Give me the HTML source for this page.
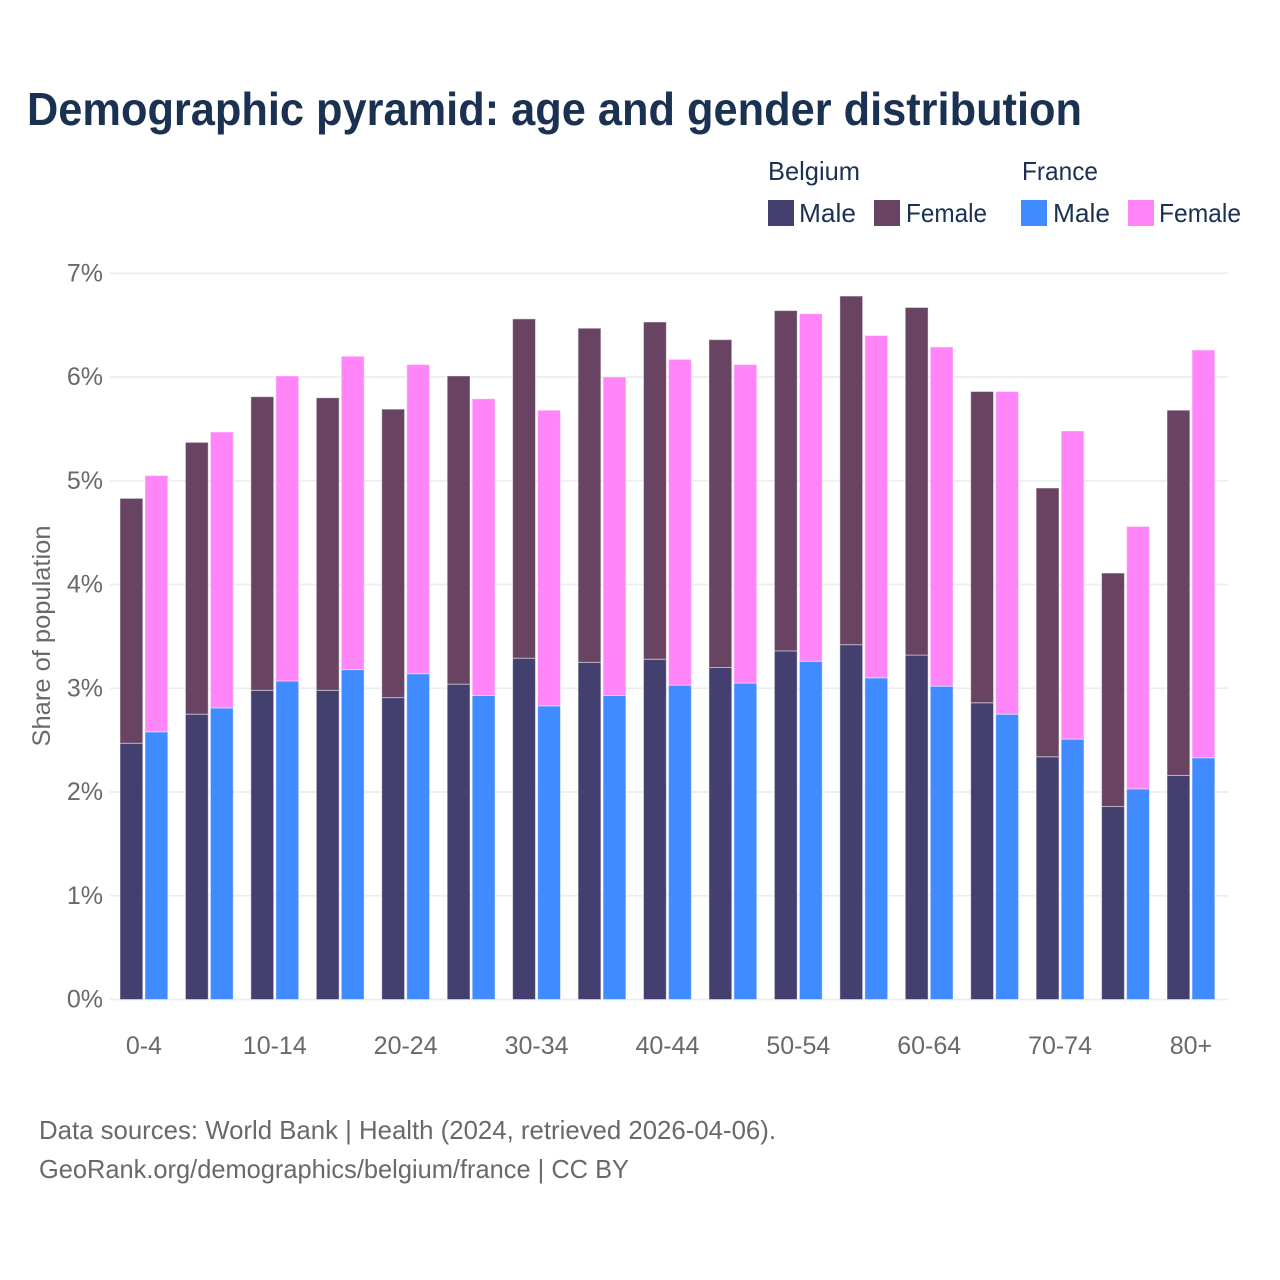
<!DOCTYPE html>
<html lang="en">
<head>
<meta charset="utf-8">
<title>Demographic pyramid</title>
<style>
html,body{margin:0;padding:0;background:#fff}
svg{display:block}
text{font-family:"Liberation Sans",sans-serif}
.tick{font-size:25px;fill:#69686d}
.leg{font-size:26px;fill:#1a3152}
</style>
</head>
<body>
<svg id="chart" width="1280" height="1280" viewBox="0 0 1280 1280" xmlns="http://www.w3.org/2000/svg">
<rect x="0" y="0" width="1280" height="1280" fill="#fff"/>
<text x="27" y="125" font-size="46" font-weight="700" fill="#1a3152" textLength="1055" lengthAdjust="spacingAndGlyphs">Demographic pyramid: age and gender distribution</text>
<g>
<text class="leg" x="768" y="180" textLength="92" lengthAdjust="spacingAndGlyphs">Belgium</text>
<text class="leg" x="1022" y="180" textLength="76" lengthAdjust="spacingAndGlyphs">France</text>
<rect x="768" y="200" width="26" height="26" fill="#434070"/>
<text class="leg" x="799" y="222" textLength="57" lengthAdjust="spacingAndGlyphs">Male</text>
<rect x="874" y="200" width="26" height="26" fill="#684362"/>
<text class="leg" x="906" y="222" textLength="81" lengthAdjust="spacingAndGlyphs">Female</text>
<rect x="1021" y="200" width="26" height="26" fill="#3f8bff"/>
<text class="leg" x="1053" y="222" textLength="57" lengthAdjust="spacingAndGlyphs">Male</text>
<rect x="1128" y="200" width="26" height="26" fill="#ff85f9"/>
<text class="leg" x="1159" y="222" textLength="82" lengthAdjust="spacingAndGlyphs">Female</text>
</g>
<g id="grid"></g>
<g id="yticks"></g>
<g id="bars"></g>
<g id="xticks"></g>
<text x="0" y="0" transform="translate(50,636) rotate(-90)" text-anchor="middle" font-size="25" fill="#69686d" textLength="221" lengthAdjust="spacingAndGlyphs">Share of population</text>
<text x="39" y="1139" font-size="26" fill="#69686d" textLength="737" lengthAdjust="spacingAndGlyphs">Data sources: World Bank | Health (2024, retrieved 2026-04-06).</text>
<text x="39" y="1178" font-size="26" fill="#69686d" textLength="590" lengthAdjust="spacingAndGlyphs">GeoRank.org/demographics/belgium/france | CC BY</text>
</svg>
<script>
const categories = ["0-4","5-9","10-14","15-19","20-24","25-29","30-34","35-39","40-44","45-49","50-54","55-59","60-64","65-69","70-74","75-79","80+"];
const xTickLabels = ["0-4","10-14","20-24","30-34","40-44","50-54","60-64","70-74","80+"];
const yTicks = [0,1,2,3,4,5,6,7];
const belgiumMale = [2.47,2.75,2.98,2.98,2.91,3.04,3.29,3.25,3.28,3.20,3.36,3.42,3.32,2.86,2.34,1.86,2.16];
const belgiumFemale = [2.36,2.62,2.83,2.82,2.78,2.97,3.27,3.22,3.25,3.16,3.28,3.36,3.35,3.00,2.59,2.25,3.52];
const franceMale = [2.58,2.81,3.07,3.18,3.14,2.93,2.83,2.93,3.03,3.05,3.26,3.10,3.02,2.75,2.51,2.03,2.33];
const franceFemale = [2.47,2.66,2.94,3.02,2.98,2.86,2.85,3.07,3.14,3.07,3.35,3.30,3.27,3.11,2.97,2.53,3.93];

const NS = "http://www.w3.org/2000/svg";
const yScale = function (v) { return 999.5 - v * 103.75; };
const xCenter = function (i) { return 143.9 + i * 65.44; };
const barW = 22.8;
const barGap = 2.2;

const grid = document.getElementById("grid");
const yticks = document.getElementById("yticks");
yTicks.forEach(function (t) {
  const l = document.createElementNS(NS, "line");
  
  
  l.setAttribute("x1", 110);
  l.setAttribute("x2", 1228);
  l.setAttribute("y1", yScale(t));
  l.setAttribute("y2", yScale(t));
  l.setAttribute("stroke", "#ecedee");
  l.setAttribute("stroke-width", 1.7);
  grid.appendChild(l);
  const s = document.createElementNS(NS, "text");
  
  
  s.setAttribute("class", "tick");
  s.setAttribute("x", 103);
  s.setAttribute("y", yScale(t) + 8);
  s.setAttribute("text-anchor", "end");
  s.textContent = t + "%";
  yticks.appendChild(s);
});

const bars = document.getElementById("bars");
function addBar(cx, base, value, color, name) {
  const r = document.createElementNS(NS, "rect");
  
  
  r.setAttribute("x", cx);
  r.setAttribute("width", barW);
  r.setAttribute("y", yScale(base + value));
  r.setAttribute("height", yScale(base) - yScale(base + value));
  r.setAttribute("fill", color);
  r.setAttribute("stroke", "#fff");
  r.setAttribute("stroke-opacity", "0.45");
  r.setAttribute("stroke-width", "1");
  bars.appendChild(r);
}
categories.forEach(function (c, i) {
  const cx = xCenter(i);
  const bx = cx - barW - barGap / 2;
  const fx = cx + barGap / 2;
  addBar(bx, 0, belgiumMale[i], "#434070", "bar-belgium-male");
  addBar(bx, belgiumMale[i], belgiumFemale[i], "#684362", "bar-belgium-female");
  addBar(fx, 0, franceMale[i], "#3f8bff", "bar-france-male");
  addBar(fx, franceMale[i], franceFemale[i], "#ff85f9", "bar-france-female");
});

const xticks = document.getElementById("xticks");
xTickLabels.forEach(function (label) {
  const s = document.createElementNS(NS, "text");
  
  
  s.setAttribute("class", "tick");
  s.setAttribute("x", xCenter(categories.indexOf(label)));
  s.setAttribute("y", 1054);
  s.setAttribute("text-anchor", "middle");
  s.textContent = label;
  xticks.appendChild(s);
});
</script>
</body>
</html>
